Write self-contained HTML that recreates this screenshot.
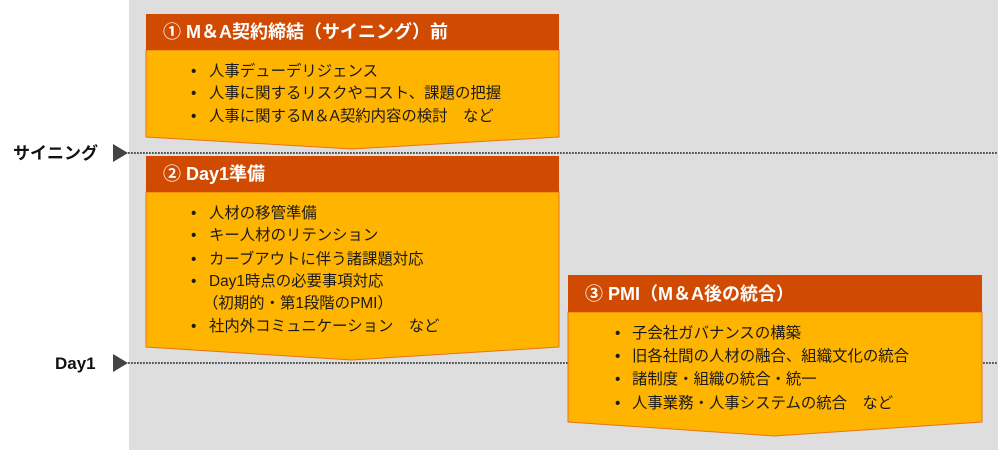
<!DOCTYPE html>
<html><head><meta charset="utf-8">
<style>
html,body{margin:0;padding:0;background:#fff;}
svg{display:block;}
text{font-family:"Liberation Sans","Noto Sans CJK JP",sans-serif;}
.h{font-size:18px;font-weight:bold;fill:#fff;}
.b{font-size:15.4px;fill:#1a1a1a;}
.lab{font-size:17px;font-weight:bold;fill:#111;}
</style></head>
<body>
<svg width="1000" height="450" viewBox="0 0 1000 450" xmlns="http://www.w3.org/2000/svg">
<rect x="129" y="0" width="869" height="450" fill="#dedede"/>

<!-- dotted lines -->
<line x1="128" y1="153" x2="998" y2="153" stroke="#555" stroke-width="2" stroke-dasharray="1.8 1.2"/>
<line x1="128" y1="363" x2="998" y2="363" stroke="#555" stroke-width="2" stroke-dasharray="1.8 1.2"/>
<polygon points="113,144 128,153 113,162" fill="#444"/>
<polygon points="113,354 128,363 113,372" fill="#444"/>
<text class="lab" x="13" y="159">サイニング</text>
<text class="lab" x="55" y="369">Day1</text>

<!-- Box 1 -->
<polygon points="146,50 559,50 559,137 352,149 146,137" fill="#ffb400" stroke="#e8731a" stroke-width="1"/>
<rect x="146" y="14" width="413" height="36" fill="#d04a02"/>
<text class="h" x="163" y="38">① M＆A契約締結（サイニング）前</text>
<text class="b" x="191" y="76">•</text><text class="b" x="209" y="76">人事デューデリジェンス</text>
<text class="b" x="191" y="98">•</text><text class="b" x="209" y="98">人事に関するリスクやコスト、課題の把握</text>
<text class="b" x="191" y="121">•</text><text class="b" x="209" y="121">人事に関するM＆A契約内容の検討　など</text>

<!-- Box 2 -->
<polygon points="146,192 559,192 559,347 352,360 146,347" fill="#ffb400" stroke="#e8731a" stroke-width="1"/>
<rect x="146" y="156" width="413" height="36" fill="#d04a02"/>
<text class="h" x="163" y="180">② Day1準備</text>
<text class="b" x="191" y="218">•</text><text class="b" x="209" y="218">人材の移管準備</text>
<text class="b" x="191" y="240">•</text><text class="b" x="209" y="240">キー人材のリテンション</text>
<text class="b" x="191" y="264">•</text><text class="b" x="209" y="264">カーブアウトに伴う諸課題対応</text>
<text class="b" x="191" y="286">•</text><text class="b" x="209" y="286">Day1時点の必要事項対応</text>
<text class="b" x="203" y="308">（初期的・第1段階のPMI）</text>
<text class="b" x="191" y="331">•</text><text class="b" x="209" y="331">社内外コミュニケーション　など</text>

<!-- Box 3 -->
<polygon points="568,312 982,312 982,422 774,436 568,422" fill="#ffb400" stroke="#e8731a" stroke-width="1"/>
<rect x="568" y="275" width="414" height="37" fill="#d04a02"/>
<text class="h" x="585" y="300">③ PMI（M＆A後の統合）</text>
<text class="b" x="615" y="338">•</text><text class="b" x="632" y="338">子会社ガバナンスの構築</text>
<text class="b" x="615" y="361">•</text><text class="b" x="632" y="361">旧各社間の人材の融合、組織文化の統合</text>
<text class="b" x="615" y="384">•</text><text class="b" x="632" y="384">諸制度・組織の統合・統一</text>
<text class="b" x="615" y="408">•</text><text class="b" x="632" y="408">人事業務・人事システムの統合　など</text>
</svg>
</body></html>
